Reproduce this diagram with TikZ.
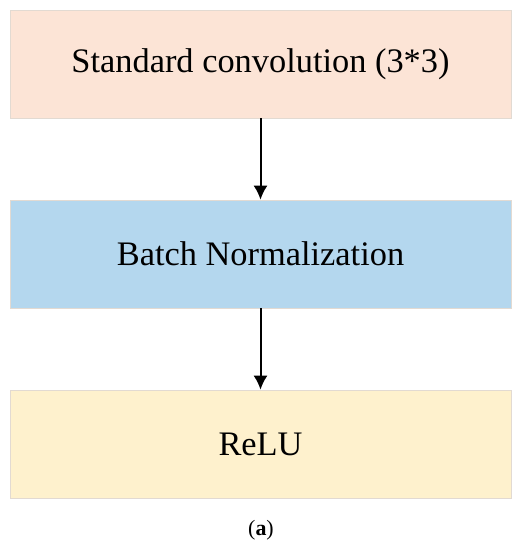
\documentclass[tikz,border=0pt]{standalone}
\usepackage{fontspec}
\setmainfont{Liberation Serif}
\usetikzlibrary{arrows.meta,positioning}
\definecolor{convfill}{HTML}{FCE4D6}
\definecolor{bnfill}{HTML}{B4D7EE}
\definecolor{relufill}{HTML}{FEF1CD}
\definecolor{boxline}{HTML}{E2DAD2}
\begin{document}
\begin{tikzpicture}[x=1bp,y=-1bp,>=Latex,
  stage/.style={draw=boxline,line width=.6pt,minimum width=501bp,
    minimum height=108bp,inner sep=0pt,font=\fontsize{34.5}{40}\selectfont},
  flow/.style={->,line width=2bp,>={Latex[length=14bp,width=14bp]}}]
\useasboundingbox (0,0) rectangle (522,550);
\node[stage,fill=convfill] (conv) at (260.5,64) {Standard convolution (3*3)};
\node[stage,fill=bnfill] (bn) at (260.5,254) {Batch Normalization};
\node[stage,fill=relufill] (relu) at (260.5,444) {ReLU};
\draw[flow] (conv.south)--(bn.north);
\draw[flow] (bn.south)--(relu.north);
\node[font=\fontsize{22}{26}\selectfont] (cap) at (261,530) {(\textbf{a})};
\end{tikzpicture}
\end{document}
